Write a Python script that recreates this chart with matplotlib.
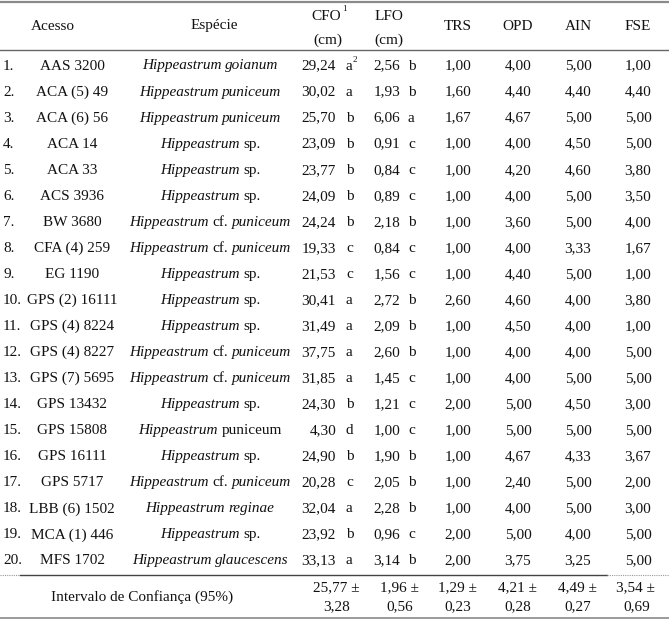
import matplotlib.pyplot as plt

plt.rcParams["font.family"] = ["Liberation Serif", "DejaVu Serif"]

# dados da tabela
numeros = [f"{i}." for i in range(1, 21)]
acessos = ["AAS 3200", "ACA (5) 49", "ACA (6) 56", "ACA 14", "ACA 33", "ACS 3936",
           "BW 3680", "CFA (4) 259", "EG 1190", "GPS (2) 16111", "GPS (4) 8224",
           "GPS (4) 8227", "GPS (7) 5695", "GPS 13432", "GPS 15808", "GPS 16111",
           "GPS 5717", "LBB (6) 1502", "MCA (1) 446", "MFS 1702"]
# _..._ = italico
especies = ["_Hippeastrum_ _goianum_", "_Hippeastrum_ _puniceum_", "_Hippeastrum_ _puniceum_",
            "_Hippeastrum_ sp.", "_Hippeastrum_ sp.", "_Hippeastrum_ sp.",
            "_Hippeastrum_ cf. _puniceum_", "_Hippeastrum_ cf. _puniceum_", "_Hippeastrum_ sp.",
            "_Hippeastrum_ sp.", "_Hippeastrum_ sp.", "_Hippeastrum_ cf. _puniceum_",
            "_Hippeastrum_ cf. _puniceum_", "_Hippeastrum_ sp.", "_Hippeastrum_ puniceum",
            "_Hippeastrum_ sp.", "_Hippeastrum_ cf. _puniceum_", "_Hippeastrum_ _reginae_",
            "_Hippeastrum_ sp.", "_Hippeastrum_ _glaucescens_"]
cfo = ["29,24", "30,02", "25,70", "23,09", "23,77", "24,09", "24,24", "19,33", "21,53", "30,41",
       "31,49", "37,75", "31,85", "24,30", "4,30", "24,90", "20,28", "32,04", "23,92", "33,13"]
cfo_letra = ["a", "a", "b", "b", "b", "b", "b", "c", "c", "a",
             "a", "a", "a", "b", "d", "b", "c", "a", "b", "a"]
lfo = ["2,56", "1,93", "6,06", "0,91", "0,84", "0,89", "2,18", "0,84", "1,56", "2,72",
       "2,09", "2,60", "1,45", "1,21", "1,00", "1,90", "2,05", "2,28", "0,96", "3,14"]
lfo_letra = ["b", "b", "a", "c", "c", "c", "b", "c", "c", "b",
             "b", "b", "c", "c", "c", "b", "b", "b", "c", "b"]
trs = ["1,00", "1,60", "1,67", "1,00", "1,00", "1,00", "1,00", "1,00", "1,00", "2,60",
       "1,00", "1,00", "1,00", "2,00", "1,00", "1,00", "1,00", "1,00", "2,00", "2,00"]
opd = ["4,00", "4,40", "4,67", "4,00", "4,20", "4,00", "3,60", "4,00", "4,40", "4,60",
       "4,50", "4,00", "4,00", "5,00", "5,00", "4,67", "2,40", "4,00", "5,00", "3,75"]
ain = ["5,00", "4,40", "5,00", "4,50", "4,60", "5,00", "5,00", "3,33", "5,00", "4,00",
       "4,00", "4,00", "5,00", "4,50", "5,00", "4,33", "5,00", "5,00", "4,00", "3,25"]
fse = ["1,00", "4,40", "5,00", "5,00", "3,80", "3,50", "4,00", "1,67", "1,00", "3,80",
       "1,00", "5,00", "5,00", "3,00", "5,00", "3,67", "2,00", "3,00", "5,00", "5,00"]
ic_media = ["25,77", "1,96", "1,29", "4,21", "4,49", "3,54"]
ic_erro = ["3,28", "0,56", "0,23", "0,28", "0,27", "0,69"]

W, H = 669, 619
fig = plt.figure(figsize=(W / 100, H / 100), dpi=100)
ax = fig.add_axes([0, 0, 1, 1])
ax.set_xlim(0, W)
ax.set_ylim(H, 0)
ax.axis("off")

fs = 11
cor = "#111111"
y0, dy = 66, 26.05

# linhas
ax.plot([0, W], [1.5, 1.5], color="#8a8a8a", lw=1.6)
ax.plot([0, W], [50, 50], color="#666666", lw=1.0)
ax.plot([20, 607], [575, 575], color="#444444", lw=1.0)
ax.plot([0, 20], [575, 575], color="#999999", lw=0.8, ls=(0, (1, 1)))
ax.plot([607, W], [575, 575], color="#999999", lw=0.8, ls=(0, (1, 1)))
ax.plot([0, W], [618, 618], color="#8a8a8a", lw=1.2)

# cabecalho
ax.text(53, 26, "Acesso", ha="center", va="center", fontsize=fs, color=cor)
ax.text(214, 26, "Espécie", ha="center", va="center", fontsize=fs, color=cor)
ax.text(326, 16, "CFO", ha="center", va="center", fontsize=fs, color=cor)
ax.text(342, 9, "1", ha="left", va="center", fontsize=fs * 0.6, color=cor)
ax.text(328, 40, "(cm)", ha="center", va="center", fontsize=fs, color=cor)
ax.text(389, 16, "LFO", ha="center", va="center", fontsize=fs, color=cor)
ax.text(389, 40, "(cm)", ha="center", va="center", fontsize=fs, color=cor)
for x, t in zip([458, 518, 578, 638], ["TRS", "OPD", "AIN", "FSE"]):
    ax.text(x, 26, t, ha="center", va="center", fontsize=fs, color=cor)

# especie com partes em italico
renderer = fig.canvas.get_renderer()
sp_w = 3.6


def texto_misto(xc, y, s):
    partes = []
    for p in s.split(" "):
        it = p.startswith("_")
        partes.append((p.strip("_"), "italic" if it else "normal"))
    objs = []
    for p, st in partes:
        t = ax.text(0, y, p, ha="left", va="center", fontsize=fs, style=st, color=cor)
        objs.append(t)
    larg = [t.get_window_extent(renderer).width for t in objs]
    total = sum(larg) + sp_w * (len(larg) - 1)
    x = xc - total / 2
    for t, w in zip(objs, larg):
        t.set_x(x)
        x += w + sp_w


for i in range(20):
    y = y0 + dy * i
    ax.text(3, y, numeros[i], ha="left", va="center", fontsize=fs, color=cor)
    ax.text(72, y, acessos[i], ha="center", va="center", fontsize=fs, color=cor)
    texto_misto(210, y, especies[i])
    ax.text(336, y, cfo[i], ha="right", va="center", fontsize=fs, color=cor)
    ax.text(346, y, cfo_letra[i], ha="left", va="center", fontsize=fs, color=cor)
    ax.text(400, y, lfo[i], ha="right", va="center", fontsize=fs, color=cor)
    ax.text(408, y, lfo_letra[i], ha="left", va="center", fontsize=fs, color=cor)
    for x, col in zip([458, 518, 578, 638], [trs, opd, ain, fse]):
        ax.text(x, y, col[i], ha="center", va="center", fontsize=fs, color=cor)
# nota 2 no primeiro valor
ax.text(353, y0 - 6, "2", ha="left", va="center", fontsize=fs * 0.6, color=cor)

# intervalo de confianca
ax.text(142, 597, "Intervalo de Confiança (95%)", ha="center", va="center", fontsize=fs, color=cor)
for x, m, e in zip([336, 399, 457, 517, 577, 636], ic_media, ic_erro):
    ax.text(x, 588, m + " ±", ha="center", va="center", fontsize=fs, color=cor)
    ax.text(x + 1, 607, e, ha="center", va="center", fontsize=fs, color=cor)

fig.savefig("out.png", dpi=100)
